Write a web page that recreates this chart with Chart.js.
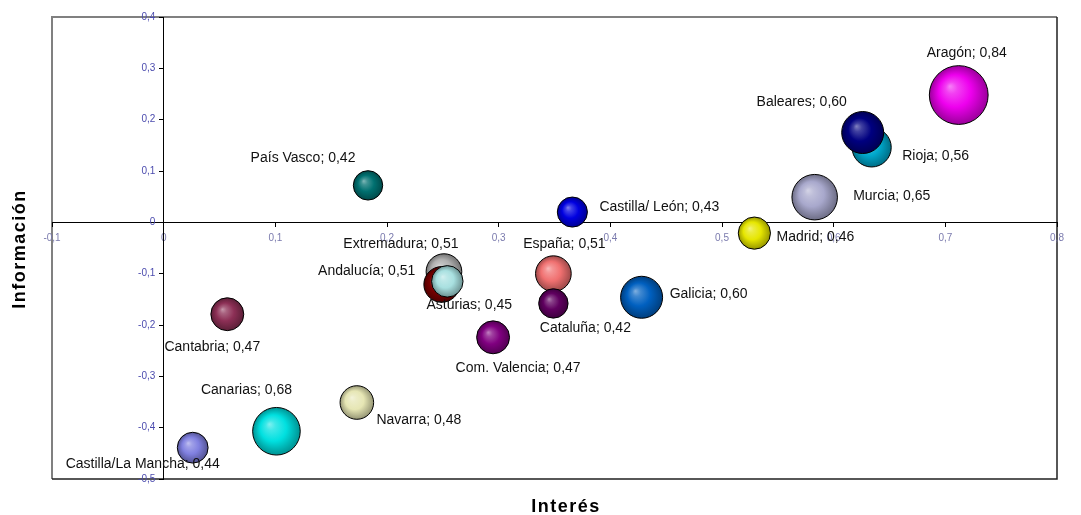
<!DOCTYPE html>
<html>
<head>
<meta charset="utf-8">
<script src="https://cdn.jsdelivr.net/npm/chart.js@4/dist/chart.umd.min.js"></script>
<style>
    body { margin: 0; background: #fff; }
    #wrap { width: 1081px; height: 515px; position: relative; }
</style>
</head>
<body>
<div id="wrap"><canvas id="myChart"></canvas></div>
<script>
// datos (orden = orden de dibujo)
const regiones = ["País Vasco", "Cantabria", "Castilla/La Mancha", "Canarias", "Navarra",
    "Extremadura", "Andalucía", "Asturias", "Com. Valencia", "España", "Cataluña",
    "Castilla/ León", "Galicia", "Madrid", "Murcia", "Rioja", "Baleares", "Aragón"];
const interes = [0.183, 0.057, 0.026, 0.101, 0.173, 0.251, 0.249, 0.254, 0.295, 0.349, 0.349,
    0.366, 0.428, 0.529, 0.583, 0.634, 0.626, 0.712];
const informacion = [0.072, -0.179, -0.439, -0.407, -0.351, -0.096, -0.121, -0.115, -0.224, -0.100, -0.158,
    0.020, -0.146, -0.021, 0.049, 0.146, 0.175, 0.248];
const tamano = [0.42, 0.47, 0.44, 0.68, 0.48, 0.51, 0.51, 0.45, 0.47, 0.51, 0.42,
    0.43, 0.60, 0.46, 0.65, 0.56, 0.60, 0.84];
const xTicks = [-0.1, 0, 0.1, 0.2, 0.3, 0.4, 0.5, 0.6, 0.7, 0.8];
const yTicks = [-0.5, -0.4, -0.3, -0.2, -0.1, 0, 0.1, 0.2, 0.3, 0.4];

// estilo
const colores = ["#007070", "#8c2f55", "#8080e0", "#00e0e0", "#e6e6b4", "#b0b0b0", "#7a0000",
    "#a8e0e0", "#800080", "#f07070", "#600060", "#0000e0", "#0060c0", "#e6e600", "#a8a8cc",
    "#00a8cc", "#000080", "#ee00ee"];
// desplazamiento de cada etiqueta respecto al centro de la burbuja (px)
const etiquetaDx = [-65, -15, -50, -30, 62, -43, -75, 22, 25, 11, 32, 87, 67, 61, 77, 64, -61, 8];
const etiquetaDy = [-27, 33, 16, -41, 18, -27, -13, 24, 31, -30, 25, -5, -3, 4, -1, 9, -30, -42];
const radioPorUnidad = 35;

function fmt(v, dec) {
    const r = Math.round(v * 100) / 100;
    if (r === 0) return "0";
    return r.toFixed(dec).replace(".", ",");
}

function mezcla(hex, otro, t) {
    const a = parseInt(hex.slice(1), 16), b = parseInt(otro.slice(1), 16);
    const ch = (n, s) => (n >> s) & 255;
    const m = (s) => Math.round(ch(a, s) * (1 - t) + ch(b, s) * t);
    return "rgb(" + m(16) + "," + m(8) + "," + m(0) + ")";
}

function relleno(ctx) {
    const i = ctx.dataIndex;
    const base = colores[i];
    const raw = ctx.raw;
    const sc = ctx.chart.scales;
    if (!raw || !sc.x || !sc.y) return base;
    const cx = sc.x.getPixelForValue(raw.x);
    const cy = sc.y.getPixelForValue(raw.y);
    const r = raw.r;
    if (!isFinite(cx) || !isFinite(cy) || !isFinite(r)) return base;
    const g = ctx.chart.ctx.createRadialGradient(cx - r * 0.3, cy - r * 0.3, 0, cx, cy, r);
    g.addColorStop(0, mezcla(base, "#ffffff", 0.5));
    g.addColorStop(0.2, mezcla(base, "#ffffff", 0.25));
    g.addColorStop(0.55, base);
    g.addColorStop(1, mezcla(base, "#000000", 0.35));
    return g;
}

const puntos = regiones.map((n, i) => ({ x: interes[i], y: informacion[i], r: tamano[i] * radioPorUnidad }));

const marcoYEtiquetas = {
    id: "marcoYEtiquetas",
    beforeDraw(chart) {
        const c = chart.ctx, a = chart.chartArea;
        c.save();
        c.lineWidth = 2;
        c.strokeStyle = "#808080";
        c.beginPath();
        c.moveTo(a.left, a.bottom);
        c.lineTo(a.left, a.top);
        c.lineTo(a.right, a.top);
        c.stroke();
        c.strokeStyle = "#202020";
        c.lineWidth = 1.5;
        c.beginPath();
        c.moveTo(a.right, a.top);
        c.lineTo(a.right, a.bottom);
        c.lineTo(a.left, a.bottom);
        c.stroke();
        c.restore();
    },
    afterDatasetsDraw(chart) {
        const c = chart.ctx;
        const meta = chart.getDatasetMeta(0);
        c.save();
        c.font = "14px 'Liberation Sans', Arial, sans-serif";
        c.fillStyle = "#111";
        c.textAlign = "center";
        c.textBaseline = "middle";
        meta.data.forEach((el, i) => {
            c.fillText(regiones[i] + "; " + fmt(tamano[i], 2), el.x + etiquetaDx[i], el.y + etiquetaDy[i]);
        });
        // titulos de los ejes
        c.font = "bold 18px 'Liberation Sans', Arial, sans-serif";
        c.fillStyle = "#000";
        c.letterSpacing = "1.5px";
        c.fillText("Interés", 566, 507);
        c.translate(20, 249);
        c.rotate(-Math.PI / 2);
        c.fillText("Información", 0, 0);
        c.restore();
    }
};

new Chart(document.getElementById("myChart"), {
    type: "bubble",
    data: {
        datasets: [{
            data: puntos,
            backgroundColor: relleno,
            borderColor: "#000",
            borderWidth: 1,
            hoverRadius: 0
        }]
    },
    options: {
        responsive: true,
        maintainAspectRatio: false,
        animation: false,
        events: [],
        layout: { autoPadding: false, padding: { left: 52, top: 17, right: 24, bottom: 36 } },
        plugins: { legend: { display: false }, tooltip: { enabled: false } },
        scales: {
            x: {
                type: "linear",
                min: xTicks[0],
                max: xTicks[xTicks.length - 1],
                position: { y: 0 },
                afterBuildTicks: (s) => { s.ticks = xTicks.map(v => ({ value: v })); },
                ticks: {
                    callback: (v) => fmt(v, 1),
                    color: "#7b7bae",
                    font: { size: 10, family: "'Liberation Sans', Arial, sans-serif" },
                    padding: 6,
                    maxRotation: 0,
                    autoSkip: false
                },
                grid: { drawOnChartArea: false, tickLength: 4, tickColor: "#000" },
                border: { color: "#000", width: 1 }
            },
            y: {
                type: "linear",
                min: yTicks[0],
                max: yTicks[yTicks.length - 1],
                position: { x: 0 },
                afterBuildTicks: (s) => { s.ticks = yTicks.map(v => ({ value: v })); },
                ticks: {
                    callback: (v) => fmt(v, 1) + "   ",
                    color: "#4b4bae",
                    font: { size: 10, family: "'Liberation Sans', Arial, sans-serif" },
                    autoSkip: false
                },
                grid: { drawOnChartArea: false, tickLength: 4, tickColor: "#000" },
                border: { color: "#000", width: 1 }
            }
        }
    },
    plugins: [marcoYEtiquetas]
});
</script>
</body>
</html>
